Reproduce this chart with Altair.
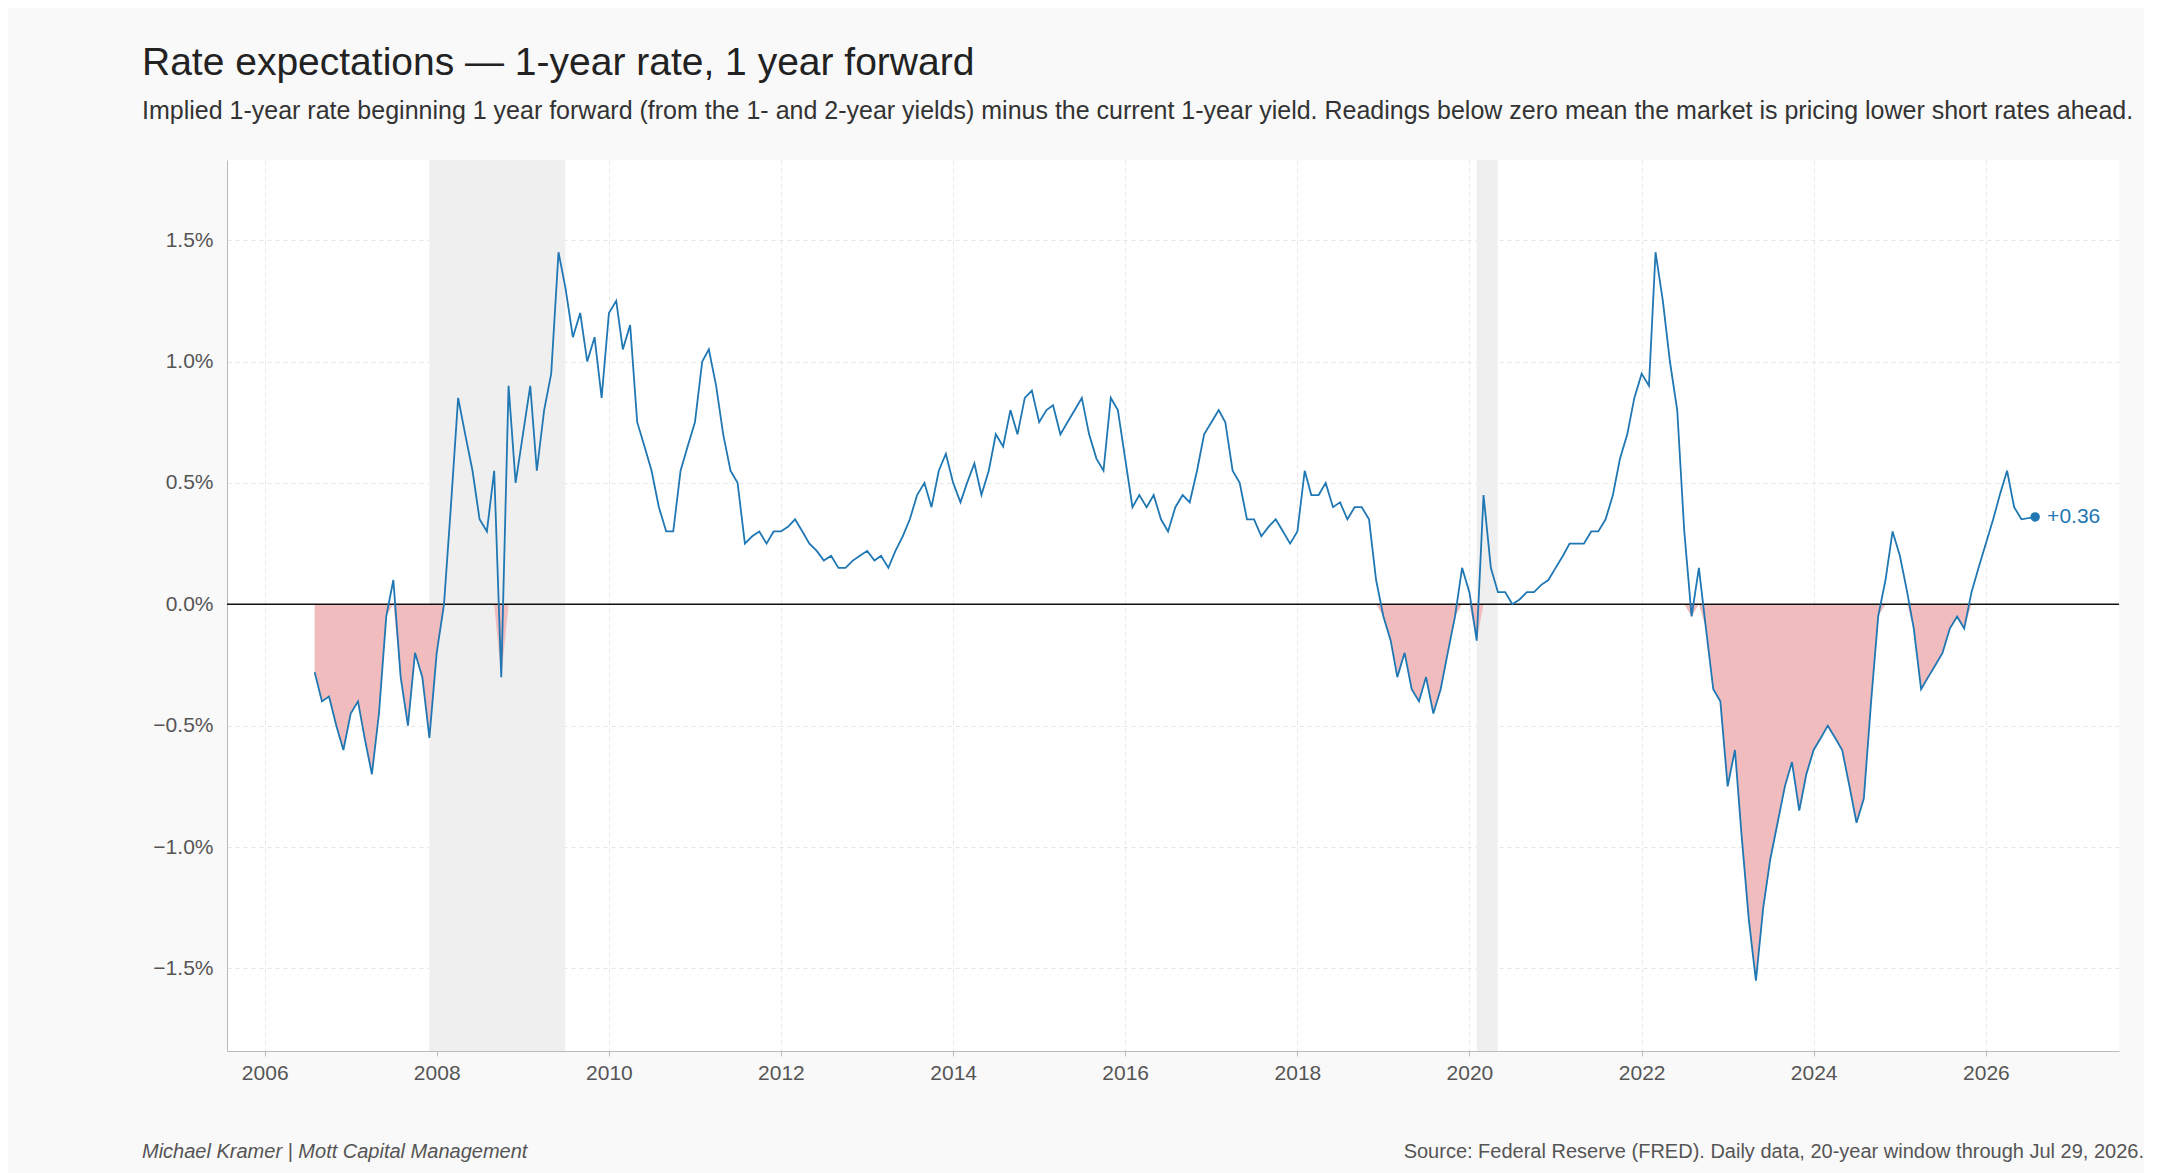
import altair as alt
import pandas as pd

# Monthly readings (percentage points), Aug 2006 .. Jul 2026
v2006 = [-0.28, -0.40, -0.38, -0.50, -0.60]
v2007 = [-0.45, -0.40, -0.55, -0.70, -0.45, -0.05, 0.10, -0.30, -0.50, -0.20, -0.30, -0.55]
v2008 = [-0.20, 0.00, 0.40, 0.85, 0.70, 0.55, 0.35, 0.30, 0.55, -0.30, 0.90, 0.50]
v2009 = [0.70, 0.90, 0.55, 0.80, 0.95, 1.45, 1.30, 1.10, 1.20, 1.00, 1.10, 0.85]
v2010 = [1.20, 1.25, 1.05, 1.15, 0.75, 0.65, 0.55, 0.40, 0.30, 0.30, 0.55, 0.65]
v2011 = [0.75, 1.00, 1.05, 0.90, 0.70, 0.55, 0.50, 0.25, 0.28, 0.30, 0.25, 0.30]
v2012 = [0.30, 0.32, 0.35, 0.30, 0.25, 0.22, 0.18, 0.20, 0.15, 0.15, 0.18, 0.20]
v2013 = [0.22, 0.18, 0.20, 0.15, 0.22, 0.28, 0.35, 0.45, 0.50, 0.40, 0.55, 0.62]
v2014 = [0.50, 0.42, 0.50, 0.58, 0.45, 0.55, 0.70, 0.65, 0.80, 0.70, 0.85, 0.88]
v2015 = [0.75, 0.80, 0.82, 0.70, 0.75, 0.80, 0.85, 0.70, 0.60, 0.55, 0.85, 0.80]
v2016 = [0.60, 0.40, 0.45, 0.40, 0.45, 0.35, 0.30, 0.40, 0.45, 0.42, 0.55, 0.70]
v2017 = [0.75, 0.80, 0.75, 0.55, 0.50, 0.35, 0.35, 0.28, 0.32, 0.35, 0.30, 0.25]
v2018 = [0.30, 0.55, 0.45, 0.45, 0.50, 0.40, 0.42, 0.35, 0.40, 0.40, 0.35, 0.10]
v2019 = [-0.05, -0.15, -0.30, -0.20, -0.35, -0.40, -0.30, -0.45, -0.35, -0.20, -0.05, 0.15]
v2020 = [0.05, -0.15, 0.45, 0.15, 0.05, 0.05, 0.00, 0.02, 0.05, 0.05, 0.08, 0.10]
v2021 = [0.15, 0.20, 0.25, 0.25, 0.25, 0.30, 0.30, 0.35, 0.45, 0.60, 0.70, 0.85]
v2022 = [0.95, 0.90, 1.45, 1.25, 1.00, 0.80, 0.30, -0.05, 0.15, -0.10, -0.35, -0.40]
v2023 = [-0.75, -0.60, -0.95, -1.30, -1.55, -1.25, -1.05, -0.90, -0.75, -0.65, -0.85, -0.70]
v2024 = [-0.60, -0.55, -0.50, -0.55, -0.60, -0.75, -0.90, -0.80, -0.40, -0.05, 0.10, 0.30]
v2025 = [0.20, 0.05, -0.10, -0.35, -0.30, -0.25, -0.20, -0.10, -0.05, -0.10, 0.05, 0.15]
v2026 = [0.25, 0.35, 0.45, 0.55, 0.40, 0.35, 0.36]

values = (v2006 + v2007 + v2008 + v2009 + v2010 + v2011 + v2012 + v2013 + v2014
          + v2015 + v2016 + v2017 + v2018 + v2019 + v2020 + v2021 + v2022
          + v2023 + v2024 + v2025 + v2026)
dates = list(pd.date_range("2006-08-01", periods=len(values), freq="MS"))
dates[-1] = pd.Timestamp("2026-07-29")

rec_start = ["2007-12-01", "2020-02-01"]
rec_end = ["2009-06-30", "2020-04-30"]

df = pd.DataFrame({"date": dates, "v": values})
df["neg"] = df["v"].clip(upper=0)
rec = pd.DataFrame({"start": pd.to_datetime(rec_start), "end": pd.to_datetime(rec_end)})
last = df.tail(1).copy()
last["label"] = "+0.36"

FONT = "Liberation Sans"
W, H = 1892, 891
xscale = alt.Scale(domain=["2005-07-25", "2027-07-20"])
yscale = alt.Scale(domain=[-1.84, 1.83], nice=False)

x_axis = alt.Axis(format="%Y", tickCount=alt.TickCount(interval="year", step=2),
                  grid=True, gridDash=[4, 4], gridColor="#e6e6e6",
                  labelFontSize=21, labelColor="#555", domainColor="#bbb",
                  tickColor="#bbb", labelPadding=6)
y_axis = alt.Axis(values=[-1.5, -1.0, -0.5, 0.0, 0.5, 1.0, 1.5],
                  labelExpr="format(datum.value, '.1f') + '%'",
                  grid=True, gridDash=[4, 4], gridColor="#e6e6e6",
                  labelFontSize=21, labelColor="#555", domainColor="#bbb",
                  ticks=False, labelPadding=14)

shade = alt.Chart(rec).mark_rect(color="#efefef").encode(
    x=alt.X("start:T", scale=xscale, axis=x_axis, title=None),
    x2="end:T",
)

base = alt.Chart(df)
area = base.mark_area(color="#f0bcbd").encode(
    x=alt.X("date:T", scale=xscale),
    y=alt.Y("neg:Q", scale=yscale, axis=y_axis, title=None),
    y2=alt.datum(0),
)
zero = alt.Chart(pd.DataFrame({"z": [0]})).mark_rule(color="#111", strokeWidth=1.5).encode(
    y=alt.Y("z:Q", scale=yscale)
)
line = base.mark_line(color="#1f77b4", strokeWidth=1.8).encode(
    x=alt.X("date:T", scale=xscale),
    y=alt.Y("v:Q", scale=yscale),
)
dot = alt.Chart(last).mark_circle(color="#1f77b4", size=90, opacity=1).encode(
    x=alt.X("date:T", scale=xscale), y=alt.Y("v:Q", scale=yscale)
)
lbl = alt.Chart(last).mark_text(color="#1f77b4", font=FONT, fontSize=21, align="left", dx=12).encode(
    x=alt.X("date:T", scale=xscale), y=alt.Y("v:Q", scale=yscale), text="label:N"
)
foot_l = alt.Chart(pd.DataFrame({"t": ["Michael Kramer  |  Mott Capital Management"]})).mark_text(
    font=FONT, fontSize=20, fontStyle="italic", color="#555", align="left"
).encode(x=alt.value(-85), y=alt.value(H + 101), text="t:N")
foot_r = alt.Chart(pd.DataFrame({"t": ["Source: Federal Reserve (FRED). Daily data, 20-year window through Jul 29, 2026."]})).mark_text(
    font=FONT, fontSize=20, color="#555", align="right"
).encode(x=alt.value(W + 25), y=alt.value(H + 101), text="t:N")

chart = alt.layer(shade, area, zero, line, dot, lbl, foot_l, foot_r).properties(
    width=W, height=H,
    padding={"left": 134, "top": 36, "right": 0, "bottom": 20},
    background="#f9f9f9",
    title=alt.TitleParams(
        "Rate expectations \u2014 1-year rate, 1 year forward",
        subtitle="Implied 1-year rate beginning 1 year forward (from the 1- and 2-year yields) minus the current 1-year yield. Readings below zero mean the market is pricing lower short rates ahead.",
        anchor="start", frame="group", offset=36, dx=-85,
        font=FONT, fontSize=39, fontWeight="normal", color="#222",
        subtitleFont=FONT, subtitleFontSize=25, subtitleColor="#333", subtitlePadding=16,
    ),
).configure_view(fill="white", stroke=None)

chart.save("out.html", embed_options={"renderer": "svg", "actions": False})
